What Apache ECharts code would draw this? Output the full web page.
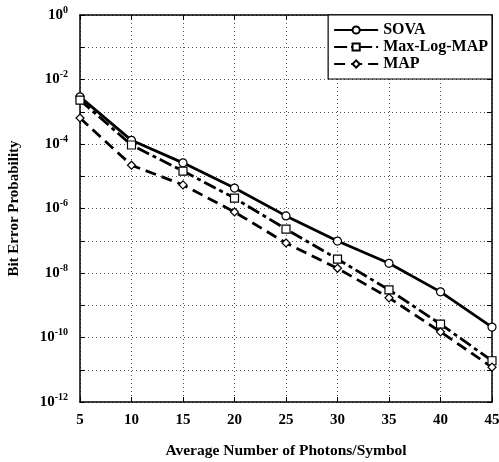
<!DOCTYPE html>
<html><head><meta charset="utf-8">
<script src="https://cdn.jsdelivr.net/npm/echarts@6/dist/echarts.min.js"></script>
<style>html,body{margin:0;padding:0;background:#fff}#c{width:499px;height:462px}</style>
</head><body><div id="c"></div>
<script>
const photons = [5, 10, 15, 20, 25, 30, 35, 40, 45];
const sova = [2.9e-3, 1.3e-4, 2.6e-5, 4.3e-6, 5.9e-7, 9.8e-8, 2.0e-8, 2.6e-9, 2.1e-10];
const maxLogMap = [2.3e-3, 9.3e-5, 1.45e-5, 2.1e-6, 2.3e-7, 2.7e-8, 3.0e-9, 2.6e-10, 1.9e-11];
const map = [6.4e-4, 2.2e-5, 5.4e-6, 7.8e-7, 8.5e-8, 1.4e-8, 1.7e-9, 1.5e-10, 1.2e-11];
const seriesNames = ['SOVA', 'Max-Log-MAP', 'MAP'];

const FONT = '"Liberation Serif", "DejaVu Serif", serif';
const pairs = arr => photons.map((x, i) => [x, arr[i]]);
const chart = echarts.init(document.getElementById('c'), null, {renderer: 'canvas'});
const gridStyle = {show: true, lineStyle: {color: '#555', type: [1, 3], width: 1}};
function mk(name, data, dash, symbol, size) {
  return {
    name, type: 'line', data: pairs(data), symbol, symbolSize: size,
    itemStyle: {color: '#fff', borderColor: '#000', borderWidth: 1.2},
    lineStyle: {color: '#000', width: 2.8, type: dash},
    emphasis: {disabled: true}, animation: false, z: 3
  };
}
chart.setOption({
  animation: false,
  grid: {left: 80, top: 15, right: 7, bottom: 60, containLabel: false, outerBoundsMode: 'none'},
  legend: {
    show: true, right: 7, top: 15, orient: 'vertical', align: 'left',
    backgroundColor: '#fff', borderColor: '#000', borderWidth: 1.2,
    padding: [7, 4, 7, 5], itemGap: 1, itemWidth: 44, itemHeight: 9,
    textStyle: {fontFamily: FONT, fontWeight: 'bold', fontSize: 16, lineHeight: 16, color: '#000'},
    data: seriesNames
  },
  xAxis: [{
    type: 'value', min: 5, max: 45, interval: 5,
    name: 'Average Number of Photons/Symbol', nameLocation: 'middle', nameGap: 41,
    nameTextStyle: {fontFamily: FONT, fontWeight: 'bold', fontSize: 15.5, color: '#000'},
    axisLine: {lineStyle: {color: '#000', width: 1.5}},
    axisTick: {inside: true, length: 5, lineStyle: {color: '#000'}},
    axisLabel: {fontFamily: FONT, fontWeight: 'bold', fontSize: 15, color: '#000', margin: 11},
    splitLine: gridStyle
  }, {
    type: 'value', min: 5, max: 45, interval: 5, position: 'top',
    axisLine: {lineStyle: {color: '#000', width: 1.5}},
    axisTick: {inside: true, length: 5, lineStyle: {color: '#000'}},
    axisLabel: {show: false}, splitLine: {show: false}
  }],
  yAxis: [{
    type: 'log', logBase: 10, min: 1e-12, max: 1, interval: 1,
    name: 'Bit Error Probability', nameLocation: 'middle', nameGap: 58,
    nameTextStyle: {fontFamily: FONT, fontWeight: 'bold', fontSize: 15, color: '#000'},
    axisLine: {show: true, lineStyle: {color: '#000', width: 1.5}},
    axisTick: {inside: true, length: 5, lineStyle: {color: '#000'}},
    axisLabel: {
      margin: 12,
      formatter: v => {
        const e = Math.round(Math.log10(v));
        if (e % 2 !== 0) return '';
        return '{b|10}{s|' + (e === 0 ? '0' : '-' + Math.abs(e)) + '}';
      },
      rich: {
        b: {fontFamily: FONT, fontWeight: 'bold', fontSize: 15, color: '#000'},
        s: {fontFamily: FONT, fontWeight: 'bold', fontSize: 10, color: '#000', padding: [0, 0, 10, 0]}
      }
    },
    splitLine: gridStyle
  }, {
    type: 'log', logBase: 10, min: 1e-12, max: 1, interval: 1, position: 'right',
    axisLine: {show: true, lineStyle: {color: '#000', width: 1.5}},
    axisTick: {inside: true, length: 5, lineStyle: {color: '#000'}},
    axisLabel: {show: false}, splitLine: {show: false}
  }],
  series: [
    mk(seriesNames[0], sova, 'solid', 'circle', 8),
    mk(seriesNames[1], maxLogMap, [13, 4, 4, 4], 'rect', 8),
    mk(seriesNames[2], map, [11, 6], 'diamond', 8)
  ]
});
</script></body></html>
